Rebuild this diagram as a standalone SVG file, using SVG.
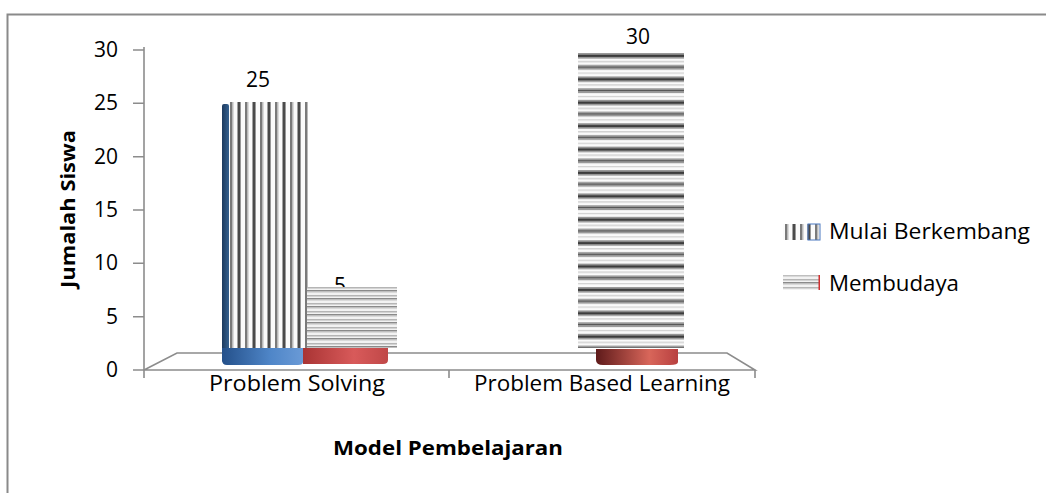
<svg xmlns="http://www.w3.org/2000/svg" width="1046" height="493" viewBox="0 0 1046 493">
<style>
.t{font-family:"Open Sans","Liberation Sans",sans-serif;font-size:20px;fill:#000}
.b{font-weight:bold}
.ax{stroke:#8c8c8c;stroke-width:1.6;fill:none}
</style>
<defs>
<pattern id="vs" patternUnits="userSpaceOnUse" x="229" y="0" width="15" height="10">
<rect width="15" height="10" fill="#fbfbfb"/>
<rect x="1" width="2.5" height="10" fill="#7a7a7a"/>
<rect x="3.5" width="1" height="10" fill="#bbb"/>
<rect x="8.5" width="2.5" height="10" fill="#4a4a4a"/>
<rect x="11" width="1" height="10" fill="#999"/>
</pattern>
<pattern id="hs" patternUnits="userSpaceOnUse" x="0" y="53" width="10" height="23.4">
<rect width="10" height="23.4" fill="#fafafa"/>
<rect y="0" width="10" height="1.5" fill="#9a9a9a"/>
<rect y="1.5" width="10" height="2.5" fill="#3c3c3c"/>
<rect y="4" width="10" height="1.5" fill="#8a8a8a"/>
<rect y="8" width="10" height="1.2" fill="#c8c8c8"/>
<rect y="11.7" width="10" height="1.5" fill="#aaa"/>
<rect y="13.2" width="10" height="2" fill="#555"/>
<rect y="15.2" width="10" height="1.5" fill="#999"/>
<rect y="19.5" width="10" height="1.2" fill="#d0d0d0"/>
</pattern>
<pattern id="hs2" patternUnits="userSpaceOnUse" x="0" y="287" width="10" height="8">
<rect width="10" height="8" fill="#f2f2f2"/>
<rect y="0" width="10" height="1.5" fill="#b5b5b5"/>
<rect y="3" width="10" height="1.5" fill="#8a8a8a"/>
<rect y="4.5" width="10" height="1" fill="#c0c0c0"/>
</pattern>
<linearGradient id="blue" x1="0" x2="1" y1="0" y2="0">
<stop offset="0" stop-color="#24508a"/>
<stop offset="0.6" stop-color="#4f86c8"/>
<stop offset="1" stop-color="#6a9ad6"/>
</linearGradient>
<linearGradient id="red" x1="0" x2="1" y1="0" y2="0">
<stop offset="0" stop-color="#a93434"/>
<stop offset="0.6" stop-color="#d85a5a"/>
<stop offset="1" stop-color="#c04848"/>
</linearGradient>
<linearGradient id="red2" x1="0" x2="1" y1="0" y2="0">
<stop offset="0" stop-color="#5e1a1a"/>
<stop offset="0.65" stop-color="#d8665a"/>
<stop offset="1" stop-color="#b84040"/>
</linearGradient>
<linearGradient id="dblue" x1="0" x2="1" y1="0" y2="0">
<stop offset="0" stop-color="#1d3a5e"/>
<stop offset="1" stop-color="#34608f"/>
</linearGradient>
</defs>

<rect width="1046" height="493" fill="#fff"/>
<path d="M7.5 493V14.5H1046" stroke="#8a8a8a" stroke-width="2" fill="none"/>

<g id="axes">
<path class="ax" d="M144 47V378"/>
<path class="ax" d="M133 50H144M133 103.3H144M133 156.7H144M133 210H144M133 263.3H144M133 316.7H144M133 370H144"/>
<path class="ax" d="M144 370L177 353H727L755 370ZM144 370H755V378M449 370V378"/>
</g>

<g id="ticks" class="t" text-anchor="end" style="font-size:21px">
<text x="118" y="57">30</text>
<text x="118" y="110">25</text>
<text x="118" y="164">20</text>
<text x="118" y="217">15</text>
<text x="118" y="270">10</text>
<text x="118" y="324">5</text>
<text x="118" y="377">0</text>
</g>

<g id="bar-ps-mulai">
<rect x="222" y="104" width="7" height="258" rx="2" fill="url(#dblue)"/>
<rect x="229" y="102" width="79" height="246" fill="url(#vs)"/>
<path d="M222 348H303V362Q303 365 298 365H227Q222 365 222 360Z" fill="url(#blue)"/>
<text class="t" x="258" y="87" text-anchor="middle" style="font-size:21px">25</text>
</g>

<g id="bar-ps-membudaya">
<text class="t" x="340" y="293" text-anchor="middle" style="font-size:21px">5</text>
<rect x="307" y="287" width="90" height="61" fill="url(#hs2)"/>
<path d="M303 348H388V360Q388 364 383 364H303Z" fill="url(#red)"/>
</g>

<g id="bar-pbl-membudaya">
<rect x="578" y="53" width="106" height="295" fill="url(#hs)"/>
<path d="M596 349H678V362Q678 365 670 365H603Q596 365 596 360Z" fill="url(#red2)"/>
<text class="t" x="638" y="44" text-anchor="middle" style="font-size:21px">30</text>
</g>

<g id="legend">
<rect x="783" y="224" width="37" height="16" fill="url(#vs)"/>
<rect x="808" y="224" width="12" height="16" fill="none" stroke="#4a78c0" stroke-width="1"/>
<text class="t" x="829" y="239" textLength="201" lengthAdjust="spacingAndGlyphs" style="font-size:21px">Mulai Berkembang</text>
<rect x="783" y="275" width="37" height="15" fill="url(#hs2)"/>
<rect x="818.5" y="275" width="1.5" height="15" fill="#d03030"/>
<text class="t" x="829" y="291" textLength="130" lengthAdjust="spacingAndGlyphs" style="font-size:21px">Membudaya</text>
</g>

<g id="labels">
<text class="t b" transform="translate(75 209) rotate(-90)" text-anchor="middle" textLength="158" lengthAdjust="spacingAndGlyphs">Jumalah Siswa</text>
<text class="t" x="297" y="391" text-anchor="middle" textLength="176" lengthAdjust="spacingAndGlyphs" style="font-size:21px">Problem Solving</text>
<text class="t" x="602" y="391" text-anchor="middle" textLength="256" lengthAdjust="spacingAndGlyphs" style="font-size:21px">Problem Based Learning</text>
<text class="t b" x="448" y="455" text-anchor="middle" textLength="230" lengthAdjust="spacingAndGlyphs">Model Pembelajaran</text>
</g>
</svg>
